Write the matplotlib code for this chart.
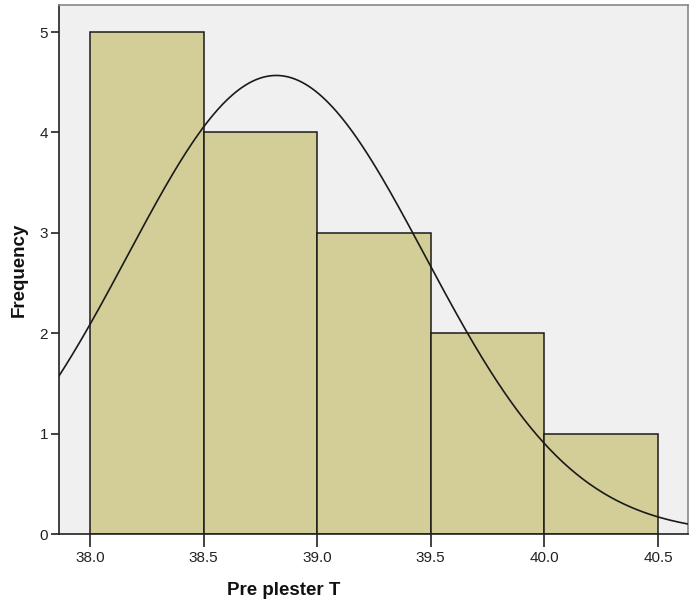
import numpy as np
import matplotlib
matplotlib.use("Agg")
import matplotlib.pyplot as plt

# Data
bin_edges = [38.0, 38.5, 39.0, 39.5, 40.0, 40.5]
counts = [5, 4, 3, 2, 1]
mean_val = 38.82
sd_val = 0.655
n_total = 15
x_ticks = [38.0, 38.5, 39.0, 39.5, 40.0, 40.5]
x_tick_labels = ["38.0", "38.5", "39.0", "39.5", "40.0", "40.5"]
y_ticks = [0, 1, 2, 3, 4, 5]

plt.rcParams['font.family'] = ['Liberation Sans', 'DejaVu Sans']

fig = plt.figure(figsize=(6.89, 6.11), dpi=100)
ax = fig.add_axes([59/689, 77/611, 629/689, 529/611])
ax.set_facecolor('#f0f0f0')

edges = np.array(bin_edges)
widths = np.diff(edges)
ax.bar(edges[:-1], counts, width=widths, align='edge',
       color='#d3ce97', edgecolor='#1a1a1a', linewidth=1.1, zorder=2)

binw = widths[0]
xs = np.linspace(37.8, 40.7, 400)
ys = n_total * binw / (sd_val * np.sqrt(2 * np.pi)) * np.exp(-0.5 * ((xs - mean_val) / sd_val) ** 2)
ax.plot(xs, ys, color='#1a1a1a', linewidth=1.2, zorder=3)

ax.set_xlim(37.864, 40.632)
ax.set_ylim(0, 5.27)
ax.set_xticks(x_ticks)
ax.set_xticklabels(x_tick_labels)
ax.set_yticks(y_ticks)

for s in ['left', 'bottom']:
    ax.spines[s].set_color('#222222')
    ax.spines[s].set_linewidth(1.2)
for s in ['top', 'right']:
    ax.spines[s].set_color('#888888')
    ax.spines[s].set_linewidth(1.2)

ax.tick_params(axis='x', direction='out', length=9, width=1.2, colors='#222222',
               labelsize=11, labelcolor='#222222', pad=3)
ax.tick_params(axis='y', direction='out', length=6, width=1.2, colors='#222222',
               labelsize=11, labelcolor='#222222', pad=2)

ax.set_xlabel('Pre plester T', fontsize=13.5, fontweight='bold', color='#111111')
ax.set_ylabel('Frequency', fontsize=13.5, fontweight='bold', color='#111111')
ax.xaxis.set_label_coords(0.358, -0.091)
ax.yaxis.set_label_coords(-0.049, 0.50)

fig.savefig('out.png', dpi=100, facecolor='white')
